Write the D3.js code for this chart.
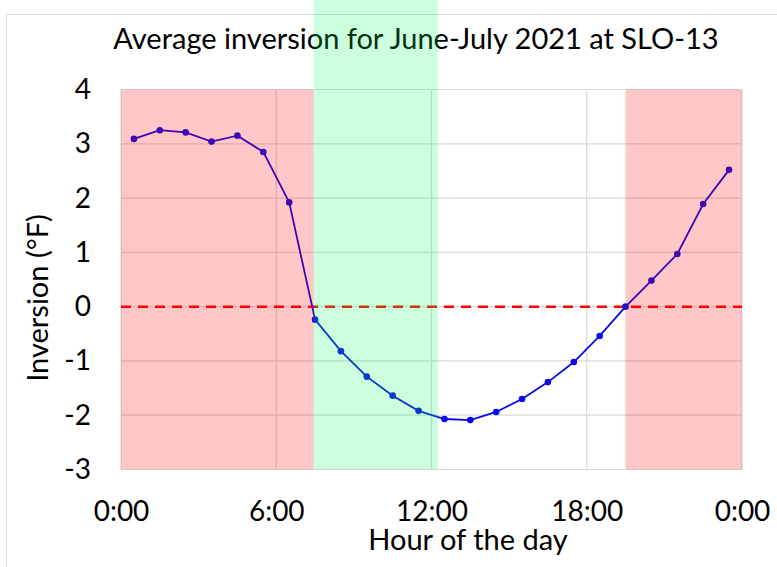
<!DOCTYPE html>
<html>
<head>
    <meta charset="utf-8">
    <title>Average inversion</title>
    <script src="https://d3js.org/d3.v7.min.js"></script>
    <style>
        body { margin: 0; background: #fff; }
        text { font-family: Lato, "Open Sans", sans-serif; fill: #000; }
    </style>
</head>
<body>
    <div id="chart"></div>
    <script>
        // data (hour of the day, inversion in °F)
        var hours = [0.5, 1.5, 2.5, 3.5, 4.5, 5.5, 6.5, 7.5, 8.5, 9.5, 10.5, 11.5,
                     12.5, 13.5, 14.5, 15.5, 16.5, 17.5, 18.5, 19.5, 20.5, 21.5, 22.5, 23.5];
        var inversion = [3.09, 3.25, 3.21, 3.04, 3.15, 2.85, 1.92, -0.24, -0.82, -1.29, -1.64, -1.92,
                         -2.07, -2.09, -1.94, -1.70, -1.39, -1.02, -0.54, 0.0, 0.48, 0.97, 1.89, 2.52];
        var xTicks = [0, 6, 12, 18, 24];
        var xTickLabels = ["0:00", "6:00", "12:00", "18:00", "0:00"];
        var yTicks = [-3, -2, -1, 0, 1, 2, 3, 4];
        // shaded periods, in hours
        var redBands = [[0, 7.45], [19.5, 24]];
        var greenBands = [[7.45, 12.25]];

        var width = 777, height = 567;
        var plotLeft = 121, plotRight = 742, plotTop = 89.5, plotBottom = 469.5;

        var svg = d3.select("#chart").append("svg")
            .attr("width", width)
            .attr("height", height);

        var x = d3.scaleLinear().domain([0, 24]).range([plotLeft, plotRight]);
        var y = d3.scaleLinear().domain([-3, 4]).range([plotBottom, plotTop]);

        // chart border
        svg.append("rect")
            .attr("x", 6.5).attr("y", 14.5)
            .attr("width", 800).attr("height", 600)
            .attr("fill", "none")
            .attr("stroke", "#d9d9d9");

        // title
        svg.append("text")
            .attr("x", 416).attr("y", 49)
            .attr("text-anchor", "middle")
            .style("font-size", "29px")
            .text("Average inversion for June-July 2021 at SLO-13");

        // grid
        svg.append("g")
            .selectAll("line")
            .data(yTicks)
            .join("line")
            .attr("x1", plotLeft).attr("x2", plotRight)
            .attr("y1", function (d) { return y(d); })
            .attr("y2", function (d) { return y(d); })
            .attr("stroke", "#d9d9d9")
            .attr("stroke-width", 1.2);

        svg.append("g")
            .selectAll("line")
            .data(xTicks)
            .join("line")
            .attr("x1", function (d) { return x(d); })
            .attr("x2", function (d) { return x(d); })
            .attr("y1", plotTop).attr("y2", plotBottom)
            .attr("stroke", "#d9d9d9")
            .attr("stroke-width", 1.2);

        // axes (labels only)
        var xAxis = d3.axisBottom(x)
            .tickValues(xTicks)
            .tickFormat(function (d, i) { return xTickLabels[i]; })
            .tickSize(0)
            .tickPadding(32);
        var gx = svg.append("g")
            .attr("transform", "translate(0," + plotBottom + ")")
            .call(xAxis);
        gx.select(".domain").remove();
        gx.selectAll("text")
            .style("font-family", "Lato, sans-serif")
            .style("font-size", "28px");

        var yAxis = d3.axisLeft(y)
            .tickValues(yTicks)
            .tickFormat(function (d) { return String(d); })
            .tickSize(0)
            .tickPadding(30);
        var gy = svg.append("g")
            .attr("transform", "translate(" + plotLeft + ",0)")
            .call(yAxis);
        gy.select(".domain").remove();
        gy.selectAll("text")
            .style("font-family", "Lato, sans-serif")
            .style("font-size", "28px");

        // axis titles
        svg.append("text")
            .attr("x", 468).attr("y", 550)
            .attr("text-anchor", "middle")
            .style("font-size", "29px")
            .text("Hour of the day");

        svg.append("text")
            .attr("transform", "translate(48,298) rotate(-90)")
            .attr("text-anchor", "middle")
            .style("font-size", "29px")
            .text("Inversion (°F)");

        // zero line
        svg.append("line")
            .attr("x1", plotLeft).attr("x2", plotRight)
            .attr("y1", y(0)).attr("y2", y(0))
            .attr("stroke", "#ff0000")
            .attr("stroke-width", 2.5)
            .attr("stroke-dasharray", "10,7");

        // series
        var points = hours.map(function (h, i) { return [h, inversion[i]]; });
        var line = d3.line()
            .x(function (d) { return x(d[0]); })
            .y(function (d) { return y(d[1]); });

        svg.append("path")
            .datum(points)
            .attr("d", line)
            .attr("fill", "none")
            .attr("stroke", "#0a0ae6")
            .attr("stroke-width", 1.8);

        svg.append("g")
            .selectAll("circle")
            .data(points)
            .join("circle")
            .attr("cx", function (d) { return x(d[0]); })
            .attr("cy", function (d) { return y(d[1]); })
            .attr("r", 3.3)
            .attr("fill", "#0a0ae6");

        // translucent bands on top
        svg.append("g")
            .selectAll("rect")
            .data(redBands)
            .join("rect")
            .attr("x", function (d) { return x(d[0]); })
            .attr("y", plotTop)
            .attr("width", function (d) { return x(d[1]) - x(d[0]); })
            .attr("height", plotBottom - plotTop)
            .attr("fill", "rgba(255,0,0,0.22)");

        svg.append("g")
            .selectAll("rect")
            .data(greenBands)
            .join("rect")
            .attr("x", function (d) { return x(d[0]); })
            .attr("y", 0)
            .attr("width", function (d) { return x(d[1]) - x(d[0]); })
            .attr("height", plotBottom)
            .attr("fill", "rgba(0,255,85,0.2)");
    </script>
</body>
</html>
